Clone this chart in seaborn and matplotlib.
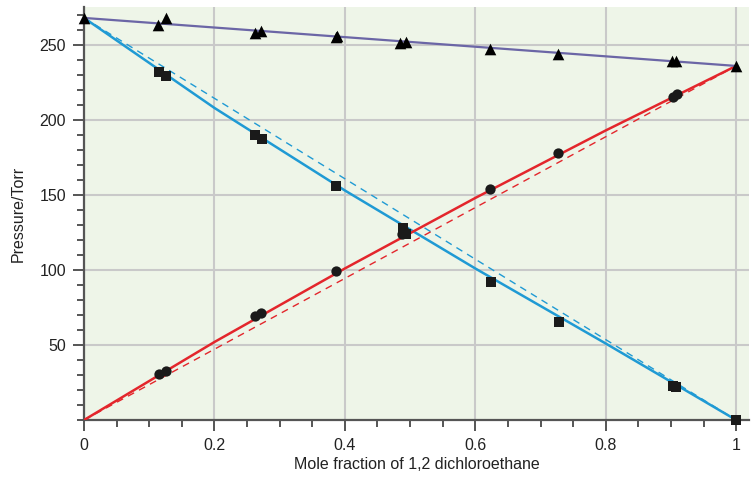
import matplotlib
matplotlib.use("Agg")
import matplotlib.pyplot as plt
import seaborn as sns
from matplotlib.ticker import MultipleLocator

# ---- data ----
# total pressure (triangles)
x_total = [0.0, 0.113, 0.126, 0.262, 0.272, 0.386, 0.388, 0.485, 0.493, 0.623, 0.727, 0.902, 0.908, 1.0]
p_total = [268, 263, 268, 258, 259, 255, 256, 251, 252, 247, 244, 239, 239, 236]

# partial pressure of the other component (squares)
x_sq = [0.115, 0.126, 0.262, 0.273, 0.387, 0.489, 0.494, 0.624, 0.729, 0.903, 0.908, 1.0]
p_sq = [232, 229, 190, 187, 156, 128, 124, 92, 65, 23, 22, 0]

# partial pressure of 1,2 dichloroethane (circles)
x_circ = [0.115, 0.126, 0.262, 0.271, 0.387, 0.487, 0.491, 0.623, 0.727, 0.903, 0.910]
p_circ = [31, 33, 69, 71, 99, 124, 126, 154, 178, 215, 217]

# smooth curves through the data
x_curve = [0.0, 0.2, 0.4, 0.6, 0.8, 1.0]
p_blue_curve = [268, 208, 153, 101, 51, 0]
p_red_curve = [0, 52, 101, 148, 193, 236]
x_purple = [0.0, 1.0]
p_purple = [268, 236]

# Raoult's law lines (dashed)
x_ideal = [0.0, 1.0]
p_blue_ideal = [268, 0]
p_red_ideal = [0, 236]

BLUE = "#1f9ad4"
RED = "#e3262c"
PURPLE = "#6b66a6"
AXCOL = "#555555"

sns.set_style("white")
plt.rcParams["font.family"] = ["Liberation Sans", "DejaVu Sans"]

fig = plt.figure(figsize=(7.55, 4.82), dpi=100)
ax = fig.add_axes([0.1113, 0.1286, 0.881, 0.856])
ax.set_facecolor("#eef5e8")

# dashed ideal lines
sns.lineplot(x=x_ideal, y=p_blue_ideal, ax=ax, color=BLUE, lw=1.0,
             linestyle=(0, (5, 4)), zorder=2)
sns.lineplot(x=x_ideal, y=p_red_ideal, ax=ax, color=RED, lw=1.0,
             linestyle=(0, (5, 4)), zorder=2)

# solid curves
sns.lineplot(x=x_curve, y=p_blue_curve, ax=ax, color=BLUE, lw=1.8, zorder=3)
sns.lineplot(x=x_curve, y=p_red_curve, ax=ax, color=RED, lw=1.8, zorder=3)
sns.lineplot(x=x_purple, y=p_purple, ax=ax, color=PURPLE, lw=1.6, zorder=3)

# markers
sns.scatterplot(x=x_total, y=p_total, ax=ax, marker="^", s=70, color="black",
                edgecolor="black", linewidth=0, zorder=5, clip_on=False)
sns.scatterplot(x=x_sq, y=p_sq, ax=ax, marker="s", s=55, color="#1a1a1a",
                edgecolor="black", linewidth=0, zorder=5, clip_on=False)
sns.scatterplot(x=x_circ, y=p_circ, ax=ax, marker="o", s=55, color="#1a1a1a",
                edgecolor="black", linewidth=0, zorder=5, clip_on=False)

ax.set_xlim(0, 1.02)
ax.set_ylim(0, 275)

ax.set_xticks([0, 0.2, 0.4, 0.6, 0.8, 1.0])
ax.set_xticklabels(["0", "0.2", "0.4", "0.6", "0.8", "1"])
ax.set_yticks([50, 100, 150, 200, 250])
ax.xaxis.set_minor_locator(MultipleLocator(0.05))
ax.yaxis.set_minor_locator(MultipleLocator(10))

ax.grid(True, which="major", color="#c9c9c9", lw=1.5, zorder=0)
ax.set_axisbelow(True)

for side in ["top", "right"]:
    ax.spines[side].set_visible(False)
for side in ["left", "bottom"]:
    ax.spines[side].set_color(AXCOL)
    ax.spines[side].set_linewidth(1.6)

ax.tick_params(which="both", bottom=True, left=True, top=False, right=False)
ax.tick_params(which="major", direction="out", length=8, width=1.4, color=AXCOL,
               labelsize=11.5, labelcolor="#222222", pad=5)
ax.tick_params(which="minor", direction="out", length=5, width=1.4, color=AXCOL)

ax.set_xlabel("Mole fraction of 1,2 dichloroethane", fontsize=11.5, color="#222222", labelpad=3)
ax.set_ylabel("Pressure/Torr", fontsize=11.5, color="#222222", labelpad=10)

fig.savefig("out.png", dpi=100)
plt.close(fig)
